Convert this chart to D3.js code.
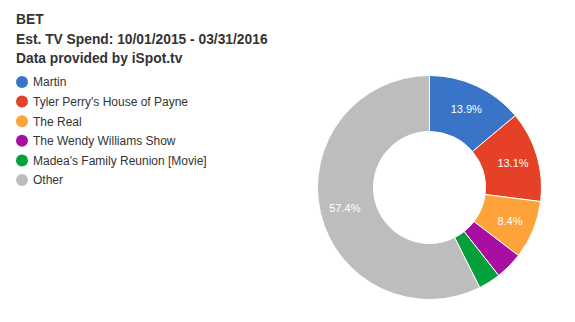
<!DOCTYPE html>
<html>
<head>
<meta charset="utf-8">
<script src="https://cdn.jsdelivr.net/npm/d3@7"></script>
<style>
html,body{margin:0;padding:0;background:#fff;}
svg{display:block;font-family:"Liberation Sans",Arial,Helvetica,sans-serif;}
</style>
</head>
<body>
<svg id="chart" width="575" height="322"></svg>
<script>
const titleLines = ["BET", "Est. TV Spend: 10/01/2015 - 03/31/2016", "Data provided by iSpot.tv"];
const categories = ["Martin", "Tyler Perry's House of Payne", "The Real", "The Wendy Williams Show", "Madea's Family Reunion [Movie]", "Other"];
const values = [13.9, 13.1, 8.4, 4.0, 3.2, 57.4];
const colors = ["#3a74c9", "#e54126", "#fea23a", "#a70ea1", "#03a03c", "#bdbdbd"];

const svg = d3.select("#chart");

// Title
svg.append("g").selectAll("text").data(titleLines).join("text")
  .attr("x", 16)
  .attr("y", (d, i) => 24 + i * 19.5)
  .attr("font-size", 13.8)
  .attr("font-weight", "bold")
  .attr("fill", "#333")
  .text(d => d);

// Legend
const legendY = d3.scalePoint().domain(categories).range([82, 180]);
const lg = svg.append("g");
const rows = lg.selectAll("g").data(categories).join("g")
  .attr("transform", d => `translate(0,${legendY(d)})`);
rows.append("circle").attr("cx", 22).attr("cy", 0).attr("r", 6)
  .attr("fill", (d, i) => colors[i]);
rows.append("text").attr("x", 33).attr("y", 4.3)
  .attr("font-size", 12).attr("fill", "#333").text(d => d);

// Donut
const cx = 429.5, cy = 187.5, R = 112, r0 = 56;
const pie = d3.pie().sort(null).value(d => d.v);
const data = categories.map((c, i) => ({c, v: values[i], col: colors[i]}));
const arcs = pie(data);
const arc = d3.arc().innerRadius(r0).outerRadius(R);
const labelArc = d3.arc().innerRadius(87).outerRadius(87);
const total = d3.sum(values);
const g = svg.append("g").attr("transform", `translate(${cx},${cy})`);
g.selectAll("path").data(arcs).join("path")
  .attr("d", arc)
  .attr("fill", d => d.data.col)
  .attr("stroke", "#fff")
  .attr("stroke-width", 1);
g.selectAll("text").data(arcs.filter(d => d.data.v / total >= 0.05)).join("text")
  .attr("transform", d => `translate(${labelArc.centroid(d)})`)
  .attr("text-anchor", "middle")
  .attr("dy", "0.36em")
  .attr("font-size", 11)
  .attr("fill", "#fff")
  .text(d => d3.format(".1f")(d.data.v / total * 100) + "%");
</script>
</body>
</html>
